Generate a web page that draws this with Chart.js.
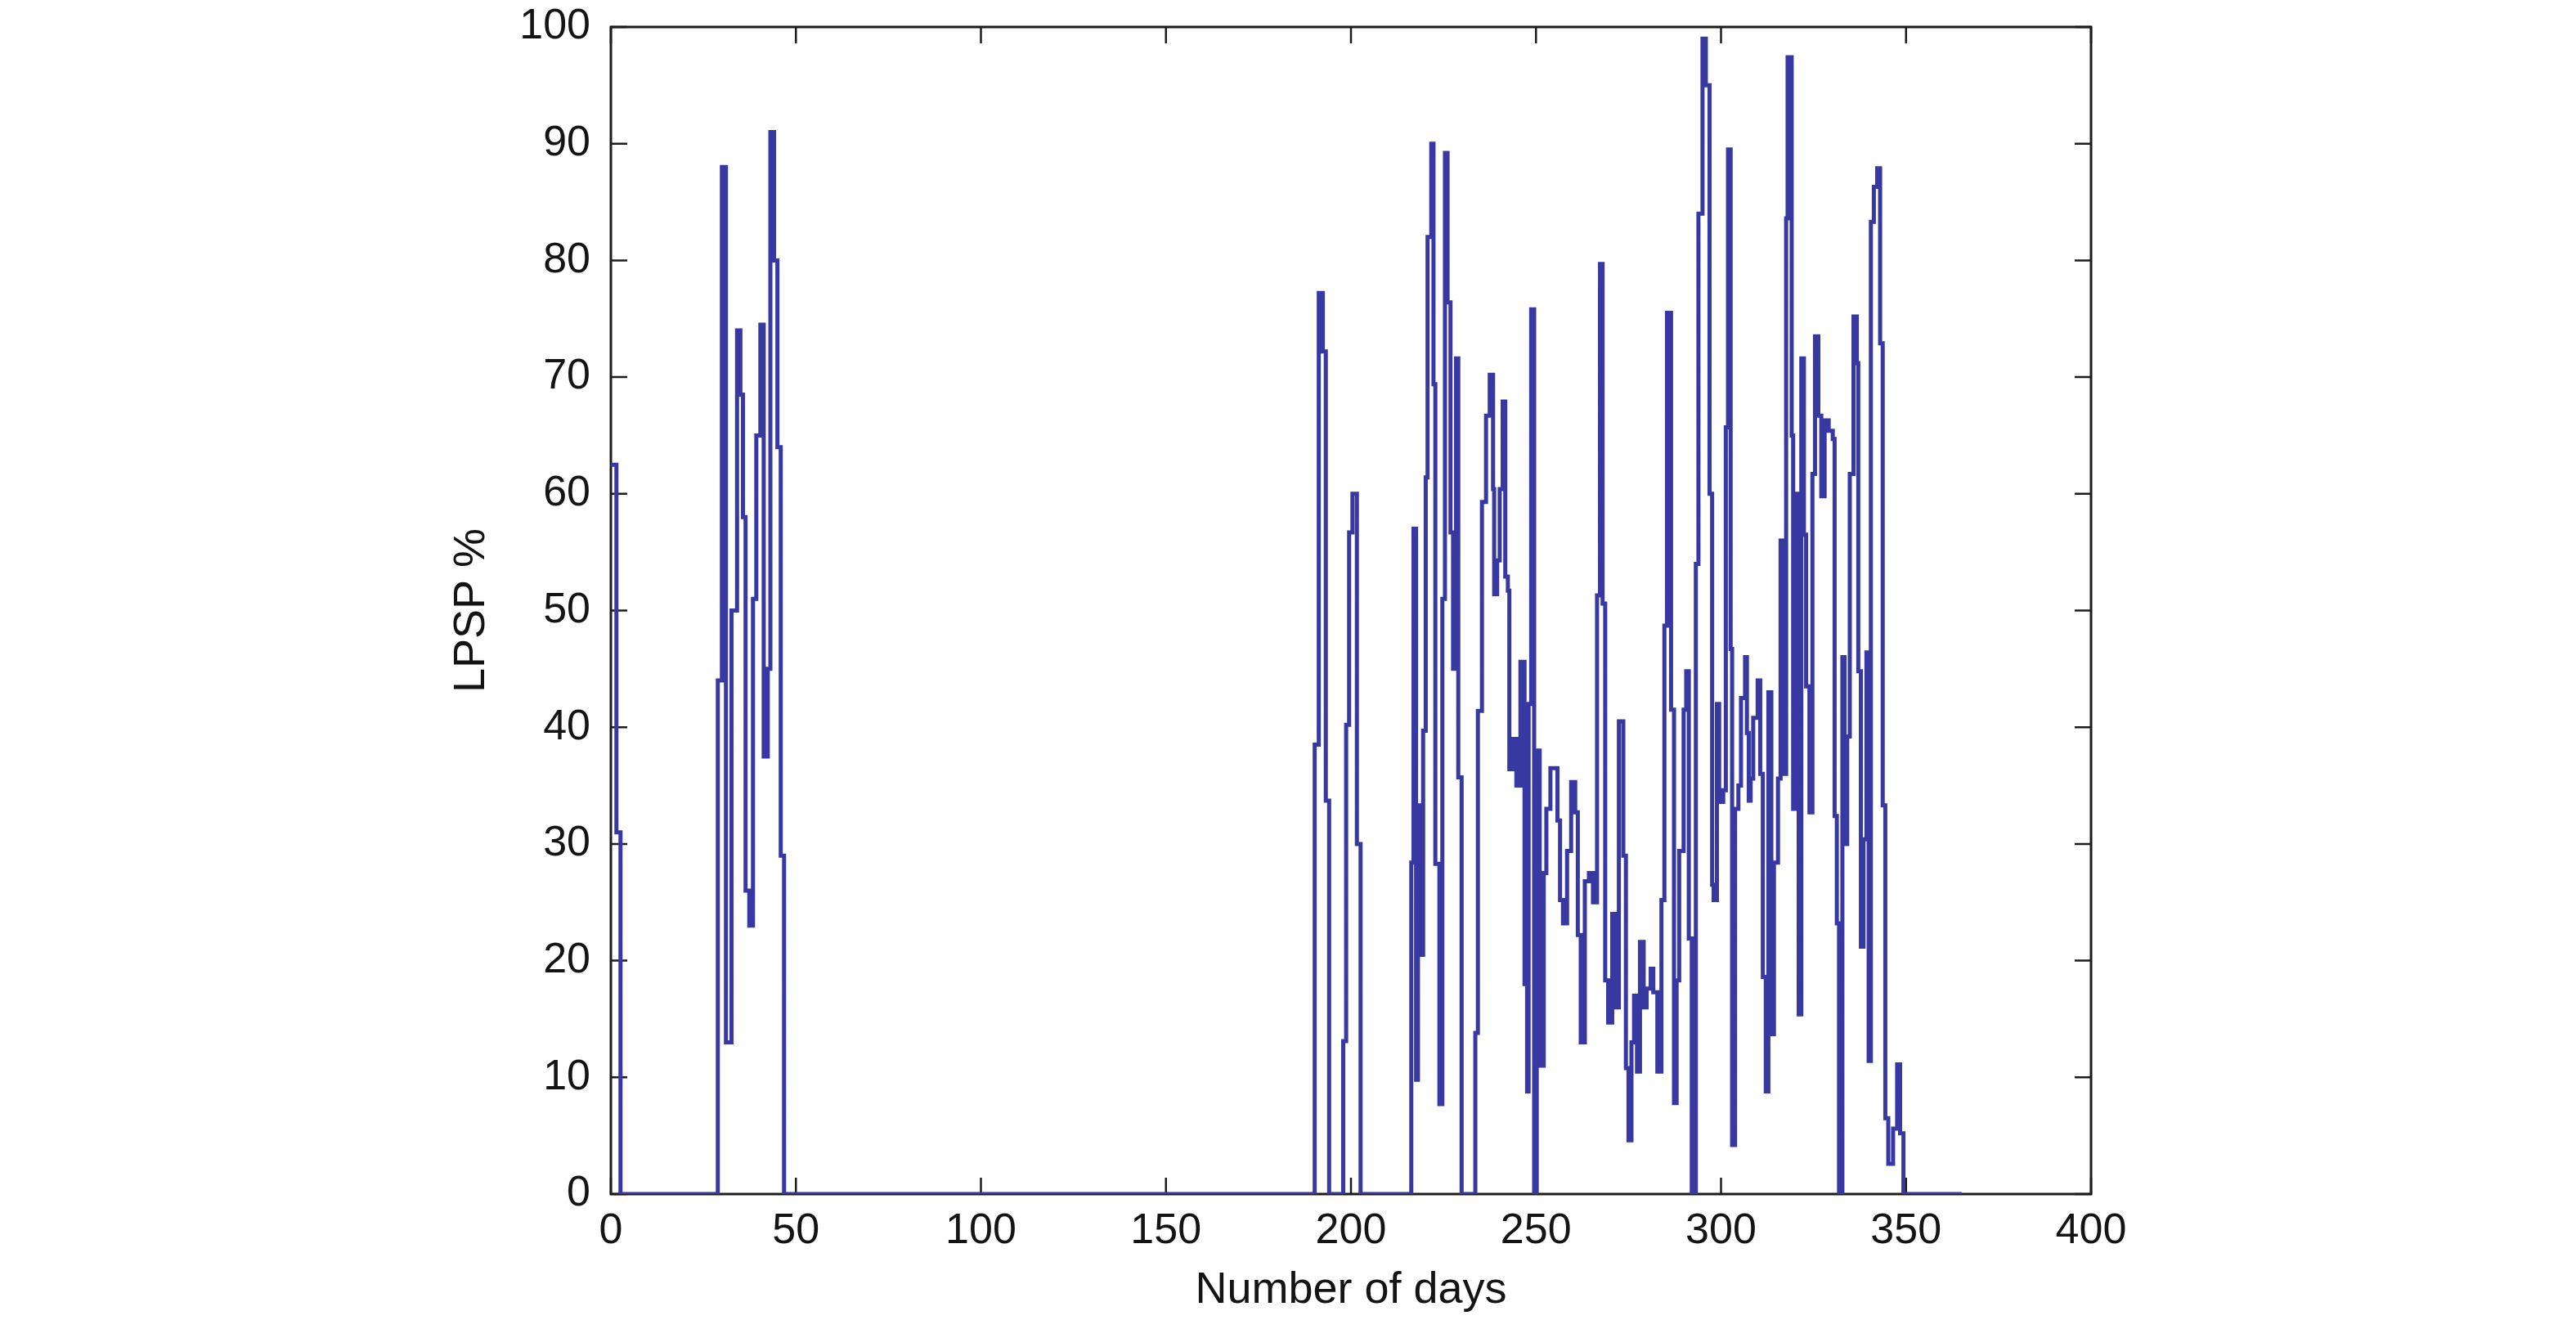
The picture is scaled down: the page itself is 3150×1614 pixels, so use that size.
<!DOCTYPE html>
<html>
<head>
<meta charset="utf-8">
<title>LPSP % over the year</title>
<script src="https://cdn.jsdelivr.net/npm/chart.js@4.4.1/dist/chart.umd.min.js"></script>
<style>
  html, body { margin: 0; padding: 0; background: #fff; }
  #wrap { width: 3150px; height: 1614px; }
</style>
</head>
<body>
<div id="wrap"><canvas id="lpspChart" width="3150" height="1614"></canvas></div>
<script>
// day at which each step starts, and the LPSP value held from there
const stepDays = [
  0, 1.5, 2.6,
  28.9, 30.0, 31.1, 32.6, 34.1, 35.0, 35.7, 36.4, 37.4, 38.4, 39.3, 40.4, 41.3, 42.4, 43.1, 44.1, 45.0, 45.9, 46.8,
  190.2, 191.3, 192.4, 193.2, 194.1, 197.9, 198.7, 199.5, 200.4, 201.6, 202.6,
  216.3, 216.9, 217.6, 218.1, 218.7, 219.5, 220.2, 220.7, 221.7, 222.3, 222.8, 223.9, 224.7, 225.4, 226.1, 226.9,
  227.6, 228.4, 229.0, 229.9,
  233.6, 234.3, 235.4, 236.5, 237.5, 238.4, 238.7, 239.5, 240.2, 241.0, 241.7, 242.4, 242.8, 243.6, 244.7, 245.8,
  246.9, 247.6, 248.0, 248.7, 249.5,
  250.2, 251.0, 252.1, 252.8, 253.9, 255.8, 256.5, 257.3, 258.4, 259.5, 260.6, 261.3, 262.1, 263.2, 264.3, 265.4,
  266.5, 267.3, 268.0, 268.7, 269.5, 270.6, 271.7, 272.4, 273.6, 274.3, 275.0, 275.8, 276.5, 277.3, 278.1, 279.1,
  279.9, 281.0, 281.7, 282.8, 283.9, 284.7, 285.4, 286.5, 287.3, 288.0, 288.7, 289.9, 290.6, 291.3, 292.1,
  293.2, 293.9, 295.0, 295.9, 296.9, 297.6, 298.0, 298.9, 299.5, 300.6, 301.3, 301.9, 302.6, 303.0, 303.8, 304.7,
  305.4, 306.5, 307.0, 307.5, 308.0, 308.7, 309.9, 310.6, 311.3, 312.1, 312.8, 313.6, 314.3, 315.4, 316.1, 316.9,
  317.6, 318.0, 319.1, 319.5, 320.1, 321.0, 321.7, 322.4, 323.0, 323.9, 324.7, 325.4, 326.3, 327.1, 328.0, 329.1,
  330.2, 330.7, 331.3, 331.9,
  332.8, 333.4, 334.1, 334.8, 335.8, 336.7, 337.1, 337.8, 338.5, 339.3, 339.9, 340.5, 341.3, 342.2, 343.0, 343.7,
  344.4, 345.2, 346.5, 347.6, 348.4, 349.3,
  365
];
const lpspValues = [
  62.5, 31, 0,
  44, 88, 13, 50, 74, 68.5, 58, 26, 23, 51, 65, 74.5, 37.5, 45, 91, 80, 64, 29, 0,
  38.5, 77.2, 72.2, 33.7, 0, 13.1, 40.2, 56.7, 60, 30, 0,
  28.4, 57, 9.8, 33.3, 20.5, 39.7, 61.4, 82, 90, 69.4, 28.3, 7.7, 51, 89.2, 76.4, 56.7,
  45, 71.6, 35.7, 0,
  13.8, 41.4, 59.3, 66.7, 70.2, 60.4, 51.4, 54.3, 60.4, 67.9, 52.9, 51.7, 36.4, 39, 35, 45.6,
  18, 8.8, 42, 75.8, 0,
  38, 11, 27.5, 33, 36.5, 32, 25.2, 23.2, 29.4, 35.3, 32.7, 22.2, 13, 26.8, 27.5, 25,
  51.3, 79.7, 50.6, 18.3, 14.7, 24, 16, 40.5, 29, 10.8, 4.6, 13, 17, 10.5, 21.6, 16,
  17.6, 19.3, 17.3, 10.5, 25.2, 48.7, 75.5, 41.5, 7.8, 18.3, 29.4, 41.5, 44.8, 21.9, 0,
  54, 84, 99, 95, 60, 26.5, 25.2, 42, 33.6, 34.6, 65.7, 89.5, 46.7, 4.2, 33, 35,
  42.5, 46, 39.5, 33.7, 35.6, 40.8, 44, 36, 18.6, 8.8, 43, 13.7, 28.4, 35.6, 56, 36,
  83.6, 97.4, 65, 33, 60, 15.4, 71.6, 56.5, 43.5, 32.7, 61.7, 73.5, 66.7, 59.8, 66.3, 65.4,
  64.7, 32.4, 23.2, 0,
  46, 30, 39.2, 61.7, 75.2, 71.2, 44.8, 21.2, 30.4, 46.4, 11.4, 83.3, 86.3, 87.9, 72.9, 33.3,
  6.5, 2.6, 5.6, 11.1, 5.2, 0,
  0
];
const xTicks = [0, 50, 100, 150, 200, 250, 300, 350, 400];
const yTicks = [0, 10, 20, 30, 40, 50, 60, 70, 80, 90, 100];

const FONT = '"Liberation Sans", Arial, Helvetica, sans-serif';
const TICK_LEN = 20;

// matlab style box with inward ticks on all four sides
const axisBox = {
  id: 'axisBox',
  beforeDatasetsDraw(chart) {
    const { ctx, chartArea: a, scales } = chart;
    const x = scales.x;
    const y = scales.y;
    ctx.save();
    ctx.strokeStyle = '#1c1c1c';
    ctx.lineWidth = 3;
    ctx.strokeRect(a.left, a.top, a.right - a.left, a.bottom - a.top);
    ctx.lineWidth = 2.5;
    ctx.beginPath();
    xTicks.forEach((v) => {
      const px = x.getPixelForValue(v);
      ctx.moveTo(px, a.bottom);
      ctx.lineTo(px, a.bottom - TICK_LEN);
      ctx.moveTo(px, a.top);
      ctx.lineTo(px, a.top + TICK_LEN);
    });
    yTicks.forEach((v) => {
      const py = y.getPixelForValue(v);
      ctx.moveTo(a.left, py);
      ctx.lineTo(a.left + TICK_LEN, py);
      ctx.moveTo(a.right, py);
      ctx.lineTo(a.right - TICK_LEN, py);
    });
    ctx.stroke();
    ctx.restore();
  }
};

const points = stepDays.map((d, i) => ({ x: d, y: lpspValues[i] }));

new Chart(document.getElementById('lpspChart'), {
  type: 'line',
  data: {
    datasets: [{
      label: 'LPSP',
      data: points,
      borderColor: '#3838a2',
      borderWidth: 5,
      pointRadius: 0,
      stepped: 'before',
      fill: false,
      tension: 0
    }]
  },
  options: {
    responsive: false,
    animation: false,
    devicePixelRatio: 1,
    layout: { padding: { left: 540, right: 593, top: 33, bottom: 0 } },
    plugins: {
      legend: { display: false },
      tooltip: { enabled: false }
    },
    scales: {
      x: {
        type: 'linear',
        min: 0,
        max: 400,
        afterBuildTicks: (s) => { s.ticks = xTicks.map((v) => ({ value: v })); },
        afterFit: (s) => { s.height = 154; },
        ticks: { color: '#141414', font: { family: FONT, size: 52 }, padding: 14, maxRotation: 0 },
        grid: { display: false, drawTicks: false },
        border: { display: false },
        title: {
          display: true,
          text: 'Number of days',
          color: '#141414',
          font: { family: FONT, size: 54 },
          padding: { top: 0, bottom: 3 }
        }
      },
      y: {
        type: 'linear',
        min: 0,
        max: 100,
        afterBuildTicks: (s) => { s.ticks = yTicks.map((v) => ({ value: v })); },
        afterFit: (s) => {
          s.width = 207;
          s.paddingTop = 0;
          s.paddingBottom = 0;
        },
        ticks: { color: '#141414', font: { family: FONT, size: 52 }, padding: 25 },
        grid: { display: false, drawTicks: false },
        border: { display: false },
        title: {
          display: true,
          text: 'LPSP %',
          color: '#141414',
          font: { family: FONT, size: 54 },
          padding: { top: 5, bottom: 0 }
        }
      }
    }
  },
  plugins: [axisBox]
});
</script>
</body>
</html>
